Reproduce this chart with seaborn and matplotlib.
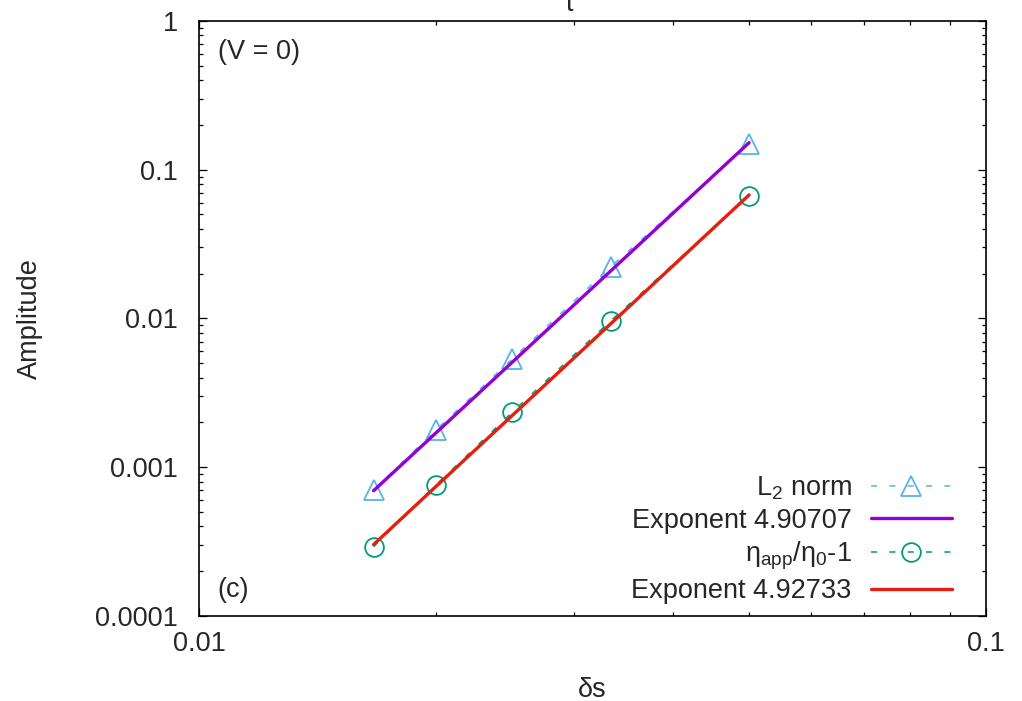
import numpy as np
import pandas as pd
import matplotlib
matplotlib.use("Agg")
import matplotlib.pyplot as plt
from matplotlib.ticker import FixedLocator, FuncFormatter, NullFormatter
import seaborn as sns

ds = [1/60, 1/50, 1/40, 1/30, 1/20]
l2_norm = [7.03e-4, 1.78e-3, 5.34e-3, 0.0222, 0.149]
eta_ratio = [2.92e-4, 7.60e-4, 2.34e-3, 9.62e-3, 0.0666]

# power-law fits, end points
fit_ds = [1/60, 1/20]
fit_l2 = [6.95e-4, 0.152]
fit_eta = [3.02e-4, 0.0677]

labels = ["L$_2$ norm", "Exponent 4.90707",
          r"η$_{\mathregular{app}}$/η$_{\mathregular{0}}$-1", "Exponent 4.92733"]

sns.set_style("white")
plt.rcParams["font.family"] = ["Liberation Sans", "DejaVu Sans"]
plt.rcParams["mathtext.fontset"] = "custom"
plt.rcParams["mathtext.rm"] = "Liberation Sans"
plt.rcParams["mathtext.it"] = "Liberation Sans"
plt.rcParams["mathtext.default"] = "regular"

fs = 19.5
fig = plt.figure(figsize=(10.22, 7.01), dpi=100)
ax = fig.add_axes([0.1947, 0.1213, 0.7701, 0.8488])

df = pd.DataFrame({"ds": ds, "l2": l2_norm, "eta": eta_ratio})
fit = pd.DataFrame({"ds": fit_ds, "l2": fit_l2, "eta": fit_eta})

dash = (0, (4, 8))
sns.lineplot(data=df, x="ds", y="l2", ax=ax, color="#56b4e9", lw=1.1,
             linestyle=dash, marker="^", markersize=14.5, markerfacecolor="none",
             markeredgecolor="#56b4e9", markeredgewidth=1.3, label=labels[0])
sns.lineplot(data=fit, x="ds", y="l2", ax=ax, color="#9400d3", lw=2.4,
             label=labels[1])
sns.lineplot(data=df, x="ds", y="eta", ax=ax, color="#009e73", lw=1.1,
             linestyle=dash, marker="o", markersize=13.5, markerfacecolor="none",
             markeredgecolor="#009e73", markeredgewidth=1.3, label=labels[2])
sns.lineplot(data=fit, x="ds", y="eta", ax=ax, color="#e51e10", lw=2.4,
             label=labels[3])

ax.set_xscale("log")
ax.set_yscale("log")
ax.set_xlim(0.01, 0.1)
ax.set_ylim(1e-4, 1)

fmt = FuncFormatter(lambda v, p: "%g" % v)
ax.xaxis.set_major_locator(FixedLocator([0.01, 0.1]))
ax.xaxis.set_minor_locator(FixedLocator([k * 0.01 for k in range(2, 10)]))
ax.yaxis.set_major_locator(FixedLocator([1e-4, 1e-3, 1e-2, 1e-1, 1]))
ax.yaxis.set_minor_locator(FixedLocator([k * 10.0**e for e in range(-4, 0) for k in range(2, 10)]))
ax.xaxis.set_major_formatter(fmt)
ax.yaxis.set_major_formatter(fmt)
ax.xaxis.set_minor_formatter(NullFormatter())
ax.yaxis.set_minor_formatter(NullFormatter())

ax.tick_params(which="both", direction="in", top=True, right=True,
               bottom=True, left=True, color="black", width=0.9)
ax.tick_params(which="major", length=6, labelsize=fs)
ax.tick_params(axis="y", which="major", pad=15)
ax.tick_params(axis="x", which="major", pad=11)
ax.tick_params(which="minor", length=3)
for s in ax.spines.values():
    s.set_color("black")
    s.set_linewidth(1.2)

ax.set_xlabel("δs", fontsize=fs, va="center")
ax.set_ylabel("Amplitude", fontsize=fs, va="center")
ax.xaxis.set_label_coords(0.5, -0.1244)
ax.yaxis.set_label_coords(-0.2147, 0.5)

ax.text(0.024, 0.948, "(V = 0)", transform=ax.transAxes, fontsize=fs, va="center")
ax.text(0.024, 0.0437, "(c)", transform=ax.transAxes, fontsize=fs, va="center")
fig.text(569 / 1022, 1 - 11 / 701, "t", fontsize=fs, ha="center", va="baseline")

leg = ax.legend(loc="lower right", bbox_to_anchor=(0.9568, 0.02), frameon=False,
                markerfirst=False, fontsize=fs, handlelength=3.0, handletextpad=0.7,
                labelspacing=0.22, borderpad=0, borderaxespad=0)

fig.savefig("out.png", dpi=100)
